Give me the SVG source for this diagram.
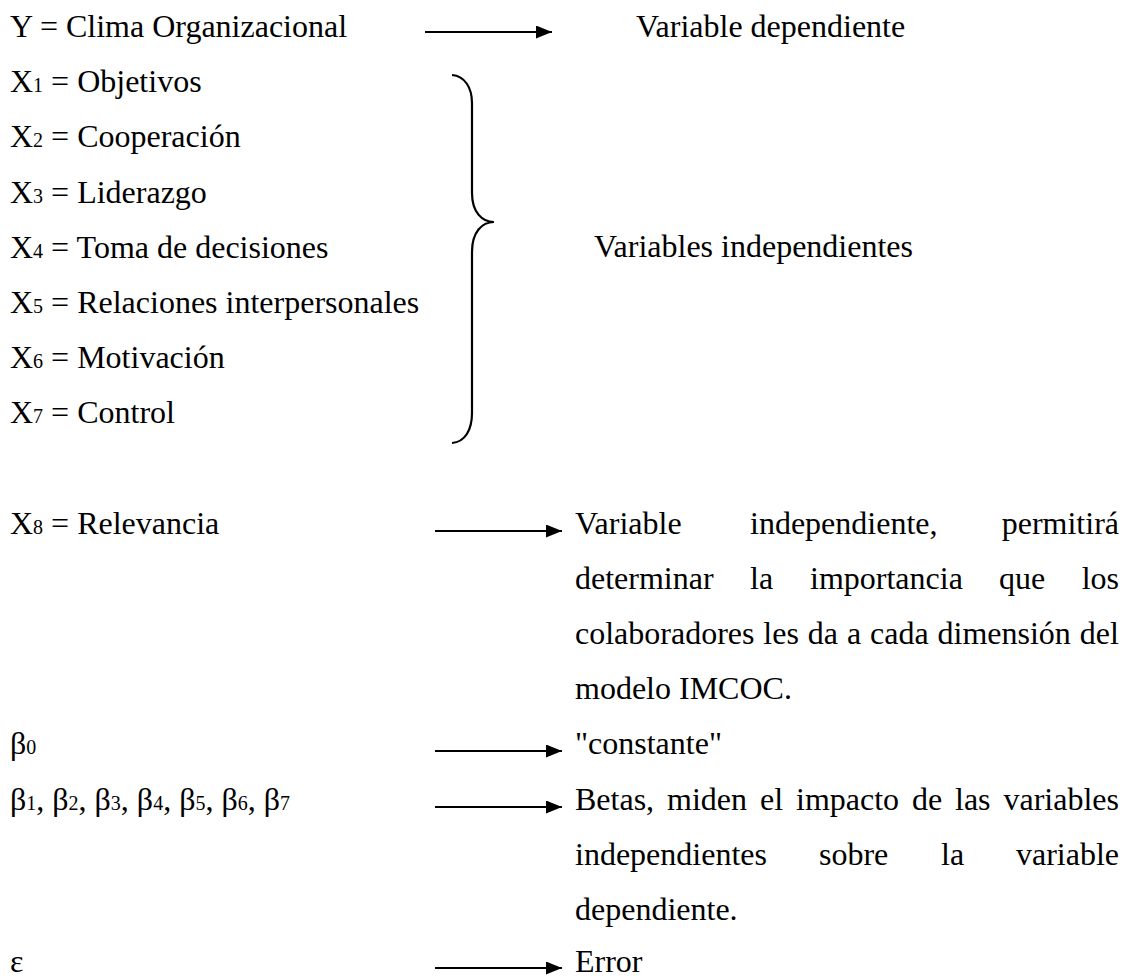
<svg xmlns="http://www.w3.org/2000/svg" width="1129" height="979" viewBox="0 0 1129 979">
<style>
  text { font-family: "Liberation Serif", "Times New Roman", serif; font-size: 32px; fill: #000; }
  .s { font-size: 20px; }
  .conn { stroke: #000; stroke-width: 2.2; fill: none; }
  .end { text-anchor: end; }
</style>
<defs>
  <marker id="ah" markerUnits="userSpaceOnUse" markerWidth="18" markerHeight="14" refX="16" refY="6.5" orient="auto">
    <path d="M0,0 L16,6.5 L0,13 z" fill="#000"/>
  </marker>
</defs>
<rect width="1129" height="979" fill="#fff"/>

<g id="y-row"><text x="10" y="37">Y = Clima Organizacional</text></g>
<g id="x1-row"><text x="10" y="92">X<tspan class="s">1</tspan> = Objetivos</text></g>
<g id="x2-row"><text x="10" y="147">X<tspan class="s">2</tspan> = Cooperación</text></g>
<g id="x3-row"><text x="10" y="203">X<tspan class="s">3</tspan> = Liderazgo</text></g>
<g id="x4-row"><text x="10" y="258">X<tspan class="s">4</tspan> = Toma de decisiones</text></g>
<g id="x5-row"><text x="10" y="313">X<tspan class="s">5</tspan> = Relaciones interpersonales</text></g>
<g id="x6-row"><text x="10" y="368">X<tspan class="s">6</tspan> = Motivación</text></g>
<g id="x7-row"><text x="10" y="423">X<tspan class="s">7</tspan> = Control</text></g>
<g id="x8-row"><text x="10" y="534">X<tspan class="s">8</tspan> = Relevancia</text></g>
<g id="b0-row"><text x="10" y="754">β<tspan class="s">0</tspan></text></g>
<g id="b17-row"><text x="10" y="810">β<tspan class="s">1</tspan>, β<tspan class="s">2</tspan>, β<tspan class="s">3</tspan>, β<tspan class="s">4</tspan>, β<tspan class="s">5</tspan>, β<tspan class="s">6</tspan>, β<tspan class="s">7</tspan></text></g>
<g id="eps-row"><text x="10" y="972">ε</text></g>

<g id="dep-label"><text x="636" y="37">Variable dependiente</text></g>
<g id="indep-label"><text x="594" y="257">Variables independientes</text></g>

<g id="x8-desc">
  <text y="534"><tspan x="575">Variable</tspan><tspan x="750">independiente,</tspan></text>
  <text class="end" x="1119" y="534">permitirá</text>
  <text y="589"><tspan x="575">determinar</tspan><tspan x="750">la</tspan><tspan x="810">importancia</tspan><tspan x="999">que</tspan></text>
  <text class="end" x="1119" y="589">los</text>
  <text x="575" y="644" word-spacing="0.9">colaboradores les da a cada dimensión del</text>
  <text x="575" y="699">modelo IMCOC.</text>
</g>
<g id="b0-desc"><text x="575" y="754">"constante"</text></g>
<g id="b17-desc">
  <text y="810"><tspan x="575">Betas,</tspan><tspan x="667">miden</tspan><tspan x="760">el</tspan><tspan x="796">impacto</tspan><tspan x="912">de</tspan><tspan x="955">las</tspan></text>
  <text class="end" x="1119" y="810">variables</text>
  <text y="865"><tspan x="575">independientes</tspan><tspan x="819">sobre</tspan><tspan x="941">la</tspan></text>
  <text class="end" x="1119" y="865">variable</text>
  <text x="575" y="920">dependiente.</text>
</g>
<g id="eps-desc"><text x="575" y="972">Error</text></g>

<g id="connectors">
  <line class="conn" x1="425" y1="32" x2="552" y2="32" marker-end="url(#ah)"/>
  <path class="conn" d="M452,75 C465,76 472,88 472,103 L472,193 C472,212 482,222 494,222 C482,222 472,232 472,252 L472,413 C472,430 465,442 452,443"/>
  <line class="conn" x1="435" y1="531" x2="562" y2="531" marker-end="url(#ah)"/>
  <line class="conn" x1="435" y1="751" x2="562" y2="751" marker-end="url(#ah)"/>
  <line class="conn" x1="435" y1="807" x2="562" y2="807" marker-end="url(#ah)"/>
  <line class="conn" x1="435" y1="968" x2="562" y2="968" marker-end="url(#ah)"/>
</g>
</svg>
